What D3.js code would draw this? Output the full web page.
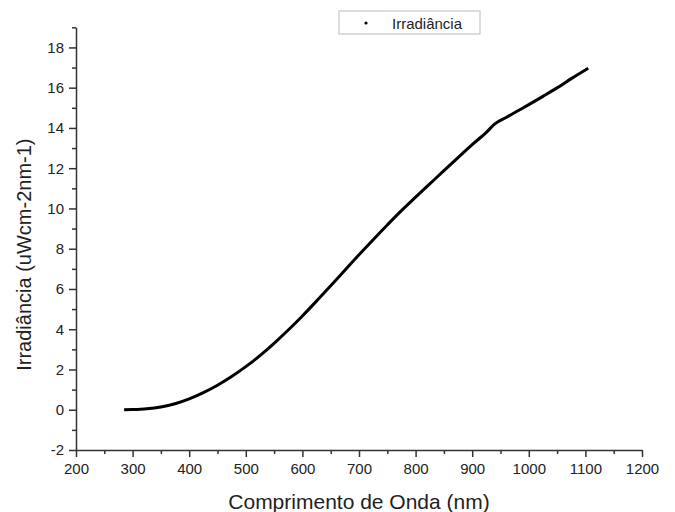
<!DOCTYPE html>
<html>
<head>
<meta charset="utf-8">
<script src="https://cdn.jsdelivr.net/npm/d3@7"></script>
<style>
  html, body { margin: 0; padding: 0; background: #fff; }
  svg { display: block; font-family: "Liberation Sans", Arial, sans-serif; }
</style>
</head>
<body>
<svg id="chart" width="675" height="512"></svg>
<script>
// Spectral irradiance of the lamp (wavelength in nm, irradiance in uW cm-2 nm-1)
const wavelength = [285, 300, 325, 350, 375, 400, 425, 450, 475, 500, 525, 550, 575, 600,
  625, 650, 675, 700, 725, 750, 775, 800, 825, 850, 875, 900, 925, 940,
  960, 980, 1000, 1025, 1050, 1075, 1105];
const irradiance = [0.00, 0.01, 0.05, 0.14, 0.30, 0.54, 0.85, 1.22, 1.65, 2.14, 2.69, 3.30, 3.96, 4.66,
  5.40, 6.16, 6.93, 7.70, 8.45, 9.18, 9.89, 10.56, 11.22, 11.88, 12.53, 13.17, 13.78, 14.20,
  14.52, 14.84, 15.16, 15.57, 15.99, 16.45, 16.97];

const xTicks = [200, 300, 400, 500, 600, 700, 800, 900, 1000, 1100, 1200];
const yTicks = [-2, 0, 2, 4, 6, 8, 10, 12, 14, 16, 18];
const xMinorTicks = [250, 350, 450, 550, 650, 750, 850, 950, 1050, 1150];
const yMinorTicks = [-1, 1, 3, 5, 7, 9, 11, 13, 15, 17, 19];

const seriesName = "Irradiância";
const xTitle = "Comprimento de Onda (nm)";
const yTitle = "Irradiância (uWcm-2nm-1)";

const svg = d3.select("#chart");
const axisColor = "#333";

const x = d3.scaleLinear().domain([200, 1200]).range([76, 642]);
const y = d3.scaleLinear().domain([-2, 19]).range([450, 27.3]);

// Curve
const points = wavelength.map((w, i) => [w, irradiance[i]]);
svg.append("path")
  .datum(points)
  .attr("fill", "none")
  .attr("stroke", "#000")
  .attr("stroke-width", 3)
  .attr("stroke-linejoin", "round")
  .attr("d", d3.line().x(d => x(d[0])).y(d => y(d[1])).curve(d3.curveMonotoneX));

function styleAxis(g) {
  g.select(".domain").attr("stroke", axisColor).attr("stroke-width", 1.5);
  g.selectAll(".tick line").attr("stroke", axisColor).attr("stroke-width", 1.5);
  g.selectAll(".tick text").attr("fill", "#222").style("font-size", "15px")
    .style("font-family", "'Liberation Sans', Arial, sans-serif");
}
const plainNumber = d => String(d);

// X axis: minor then major
svg.append("g").attr("transform", "translate(0,450)")
  .call(d3.axisBottom(x).tickValues(xMinorTicks).tickSize(4).tickFormat(""))
  .call(g => { g.select(".domain").remove(); g.selectAll(".tick line").attr("stroke", axisColor).attr("stroke-width", 1.5); });
svg.append("g").attr("transform", "translate(0,450)")
  .call(d3.axisBottom(x).tickValues(xTicks).tickSize(7).tickSizeOuter(0).tickPadding(6).tickFormat(plainNumber))
  .call(styleAxis);

// Y axis: minor then major
svg.append("g").attr("transform", "translate(76,0)")
  .call(d3.axisLeft(y).tickValues(yMinorTicks).tickSize(4).tickFormat(""))
  .call(g => { g.select(".domain").remove(); g.selectAll(".tick line").attr("stroke", axisColor).attr("stroke-width", 1.5); });
svg.append("g").attr("transform", "translate(76,0)")
  .call(d3.axisLeft(y).tickValues(yTicks).tickSize(7).tickSizeOuter(0).tickPadding(5).tickFormat(plainNumber))
  .call(styleAxis);

// Axis titles
svg.append("text")
  .attr("x", (x(200) + x(1200)) / 2)
  .attr("y", 509)
  .attr("text-anchor", "middle")
  .attr("fill", "#222")
  .style("font-size", "21px")
  .text(xTitle);

svg.append("text")
  .attr("transform", `translate(31,${(y(-2) + y(19)) / 2 + 16}) rotate(-90)`)
  .attr("text-anchor", "middle")
  .attr("fill", "#222")
  .style("font-size", "20px")
  .text(yTitle);

// Legend
const legend = svg.append("g").attr("transform", "translate(339,11)");
legend.append("rect")
  .attr("width", 141).attr("height", 23)
  .attr("fill", "#fff")
  .attr("stroke", "#bbb").attr("stroke-width", 1);
legend.append("circle")
  .attr("cx", 27).attr("cy", 12).attr("r", 1.6).attr("fill", "#000");
legend.append("text")
  .attr("x", 53).attr("y", 17.5)
  .attr("fill", "#222")
  .style("font-size", "15px")
  .text(seriesName);
</script>
</body>
</html>
